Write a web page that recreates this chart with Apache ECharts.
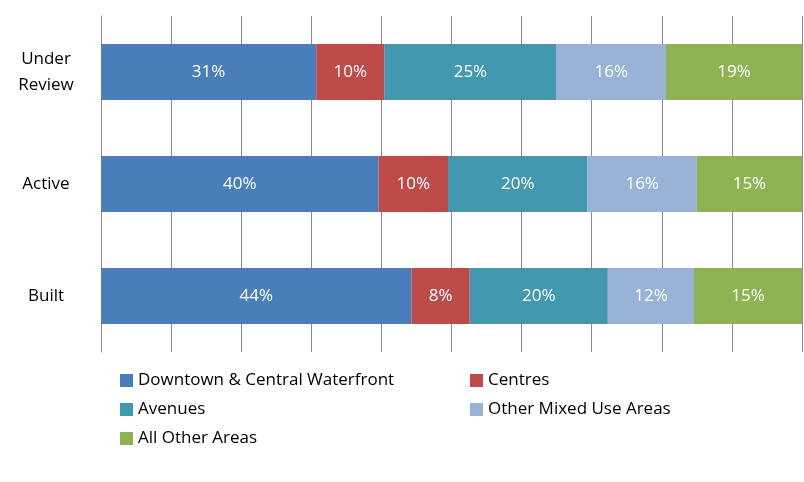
<!DOCTYPE html>
<html>
<head>
<meta charset="utf-8">
<script src="https://cdn.jsdelivr.net/npm/echarts@6/dist/echarts.min.js"></script>
<style>html,body{margin:0;padding:0;background:#fff}#chart{width:804px;height:482px}</style>
</head>
<body>
<div id="chart"></div>
<script>
var categories = ['Built', 'Active', 'Under\nReview'];
var seriesNames = ['Downtown & Central Waterfront', 'Centres', 'Avenues', 'Other Mixed Use Areas', 'All Other Areas'];
var downtown = [44.3, 39.6, 30.7];
var centres = [8.3, 9.9, 9.7];
var avenues = [19.7, 19.9, 24.6];
var otherMixed = [12.3, 15.6, 15.6];
var allOther = [15.4, 15.1, 19.4];
var labelText = [
  ['44%', '8%', '20%', '12%', '15%'],
  ['40%', '10%', '20%', '16%', '15%'],
  ['31%', '10%', '25%', '16%', '19%']
];
var colors = ['#4a7ebb', '#be4b48', '#4198af', '#98b3d6', '#8fb352'];
var values = [downtown, centres, avenues, otherMixed, allOther];

var chart = echarts.init(document.getElementById('chart'));
var font = '"Open Sans", sans-serif';

var series = seriesNames.map(function (name, i) {
  return {
    name: name,
    type: 'bar',
    stack: 'total',
    barWidth: '50%',
    data: values[i],
    itemStyle: { color: colors[i] },
    label: {
      show: true,
      color: '#fff',
      fontSize: 17,
      fontFamily: font,
      formatter: function (p) { return labelText[p.dataIndex][i]; }
    }
  };
});

function legendAt(names, left, top) {
  return {
    data: names, left: left, top: top, orient: 'vertical', itemGap: 12,
    itemWidth: 13, itemHeight: 13, icon: 'rect',
    textStyle: { fontSize: 17, fontFamily: font, color: '#000' }
  };
}

var option = {
  animation: false,
  legend: [
    legendAt(['Downtown & Central Waterfront', 'Avenues', 'All Other Areas'], 115, 367),
    legendAt(['Centres', 'Other Mixed Use Areas'], 465, 367)
  ],
  grid: { left: 101, right: 2, top: 16, bottom: 130, outerBoundsMode: 'none', containLabel: false },
  xAxis: {
    type: 'value', min: 0, max: 100, interval: 10,
    axisLabel: { show: false },
    splitLine: { lineStyle: { color: '#8c8c8c' } }
  },
  yAxis: {
    type: 'category', data: categories,
    axisLine: { lineStyle: { color: '#8c8c8c' } },
    axisTick: { length: 6, lineStyle: { color: '#8c8c8c' } },
    axisLabel: { fontSize: 17, lineHeight: 26, fontFamily: font, color: '#000', margin: 55, align: 'center' }
  },
  series: series
};
chart.setOption(option);
</script>
</body>
</html>
